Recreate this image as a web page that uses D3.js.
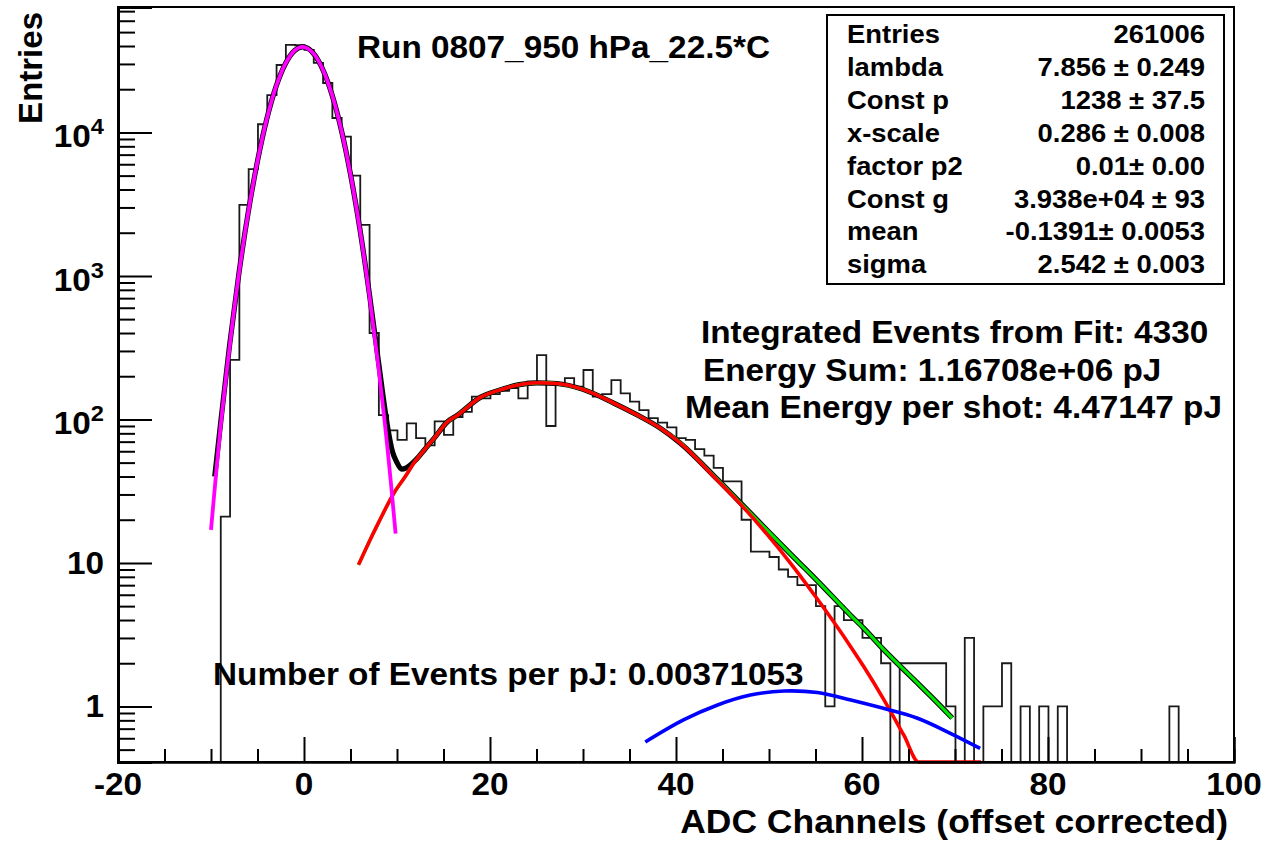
<!DOCTYPE html>
<html>
<head>
<meta charset="utf-8">
<script src="https://cdn.jsdelivr.net/npm/d3@7"></script>
<style>
  html, body { margin: 0; padding: 0; background: #fff; }
  svg { display: block; }
  text { font-family: "Liberation Sans", Arial, Helvetica, sans-serif; font-weight: bold; fill: #000; }
</style>
</head>
<body>
<svg id="chart" width="1267" height="841"></svg>
<script>
// ---------------- data ----------------
const histFirstEdge = -8.95;   // low edge of first non-empty bin (ADC channels)
const histBinWidth = 1;
const histCounts = [21,260,3125,5550,11400,18200,29500,40700,40500,37600,30500,22100,12600,9350,5000,2270,400,
  107,84,72,94,74,66,97,78,104,113,144,140,150,158,165,140,183,
  281,90,180,194,169,221,144,150,188,152,133,116,102,95,88,74,72,62,56,46,37,37,20,
  12,12,11,9,8,7,7,5,1,5,4,4,3,3,2,
  0,2,2,2,2,2,1,0,3,0,1,1,2,0,1,0,1,0,1,
  0,0,0,0,0,0,0,0,0,0,0,1];

// pedestal gaussian fit (magenta)
const gaussX = [-10,-9,-8,-7,-6,-5,-4,-3,-2,-1,-0.14,1,2,3,4,5,6,7,8,9,9.85];
const gaussY = [17,85,320,1030,2760,6300,12400,20900,30100,37200,39400,35600,27600,18400,10500,5100,2130,760,234,61,16];

// total fit (black)
const totalX = [-9.6,-9,-8,-7,-6,-5,-4,-3,-2,-1,-0.14,1,2,3,4,5,6,7,8,9,9.5,10,10.5,11,12,13,14,15.4,16.5,19,21,23,25.1,27.2,30,33.3,36,38.3,40.5,44.4,47.3,49.8,52.7,55.2,58.8,60.2,62.3,65.9,67.5,69.7];
const totalY = [40,90,330,1040,2770,6310,12410,20910,30110,37210,39410,35610,27610,18410,10510,5110,2140,775,255,88,60,50,45,46,52,62,74,96,107,143,160,174,180,178,162,130,106,87,68,38.5,24.8,16.9,10.9,7.5,4.3,3.5,2.5,1.47,1.16,0.83];

// signal component (red)
const signalX = [5.86,7,8,9.66,11,11.8,13,14,15.4,16.5,19,21,23,25.1,27.2,30,33.3,36,38.3,40.5,44.4,47.3,49.8,52.7,55.2,58.8,60.2,62.3,64.5,66.1,67,72.8];
const signalY = [9.7,14,19,30.6,41,49.5,62,74,96,107,143,160,174,180,178,162,130,106,87,68,38,24.2,15.8,9.25,5.6,2.6,1.89,1.13,0.63,0.41,0,0];

// signal + second component (green)
const sumX = [5.86,7,8,9.66,11,11.8,13,14,15.4,16.5,19,21,23,25.1,27.2,30,33.3,36,38.3,40.5,44.4,47.3,49.8,52.7,55.2,58.8,60.2,62.3,65.9,67.5,69.7];
const sumY = [9.7,14,19,30.6,41,49.5,62,74,96,107,143,160,174,180,178,162,130,106,87,68.5,38.5,24.8,16.9,10.9,7.5,4.3,3.5,2.5,1.47,1.16,0.83];

// second component (blue)
const p2X = [36.7,40.8,44.4,48.0,51.6,55.2,58.8,62.3,65.9,69.5,72.7];
const p2Y = [0.565,0.805,1.02,1.2,1.28,1.25,1.11,0.97,0.83,0.65,0.51];

const xMajorTicks = [-20,0,20,40,60,80,100];
const xTickLabels = ["-20","0","20","40","60","80","100"];
const yMajorTicks = [1,10,100,1000,10000];
const yTickBase = ["1","10","10","10","10"];
const yTickExp = ["","","2","3","4"];

const titleText = "Run 0807_950 hPa_22.5*C";
const statLabels = ["Entries","lambda","Const p","x-scale","factor p2","Const g","mean","sigma"];
const statValues = ["261006","7.856 \u00b1 0.249","1238 \u00b1 37.5","0.286 \u00b1 0.008","0.01\u00b1 0.00","3.938e+04 \u00b1 93","-0.1391\u00b1 0.0053","2.542 \u00b1 0.003"];
const noteLines = ["Integrated Events from Fit: 4330","Energy Sum: 1.16708e+06 pJ","Mean Energy per shot: 4.47147 pJ"];
const noteBottom = "Number of Events per pJ: 0.00371053";
const xTitle = "ADC Channels (offset corrected)";
const yTitle = "Entries";

// ---------------- layout ----------------
const frame = {left: 118, right: 1234, top: 7, bottom: 762};
const yMin = 0.41, yMax = 74800;
const HS = 1.075; // horizontal stretch of the glyphs

const svg = d3.select("#chart");
svg.append("rect").attr("width",1267).attr("height",841).attr("fill","#fff");

const x = d3.scaleLinear().domain([-20,100]).range([frame.left, frame.right]);
const y = d3.scaleLog().domain([yMin, yMax]).range([frame.bottom, frame.top]);
const yc = v => y(Math.max(v, yMin));

// ---------------- histogram ----------------
const pts = [];
pts.push([x(histFirstEdge), y(yMin)]);
histCounts.forEach((c, i) => {
  const lo = histFirstEdge + i*histBinWidth, hi = lo + histBinWidth;
  pts.push([x(lo), yc(c)]);
  pts.push([x(hi), yc(c)]);
});
pts.push([x(histFirstEdge + histCounts.length*histBinWidth), y(yMin)]);
svg.append("path").attr("d", d3.line()(pts))
  .attr("fill","none").attr("stroke","#1a1a1a").attr("stroke-width",1.8);

// ---------------- fit curves ----------------
function curve(xs, ys, color, width, interp) {
  const line = d3.line().x(d => x(d[0])).y(d => yc(d[1])).curve(interp || d3.curveCatmullRom);
  return svg.append("path").attr("d", line(xs.map((v,i)=>[v, ys[i]])))
    .attr("fill","none").attr("stroke",color).attr("stroke-width",width)
    .attr("stroke-linejoin","round").attr("stroke-linecap","butt");
}
curve(totalX, totalY, "#000", 5.2, d3.curveMonotoneX);
curve(sumX, sumY, "#00e600", 3.2);
curve(signalX, signalY, "#ff0000", 3.6, d3.curveMonotoneX);
curve(p2X, p2Y, "#0000ff", 3.6);
curve(gaussX, gaussY, "#ff00ff", 3.8);

// ---------------- frame & axes ----------------
svg.append("rect").attr("x",frame.left).attr("y",frame.top)
  .attr("width",frame.right-frame.left).attr("height",frame.bottom-frame.top)
  .attr("fill","none").attr("stroke","#000").attr("stroke-width",2);

const xMinor = d3.range(-20, 101, 5).filter(v => v % 20 !== 0);
const gx = svg.append("g").attr("transform",`translate(0,${frame.bottom})`);
gx.call(d3.axisBottom(x).tickValues(xMinor).tickSize(-13).tickFormat(""));
gx.append("g").call(d3.axisBottom(x).tickValues(xMajorTicks).tickSize(-25).tickFormat(""));
gx.selectAll(".domain").attr("stroke","#000").attr("stroke-width",2);
gx.selectAll(".tick line").attr("stroke","#000").attr("stroke-width",2);

const yMinor = [];
for (let e = -1; e <= 4; e++) for (let m = 2; m <= 9; m++) {
  const v = m*Math.pow(10,e);
  if (v >= yMin && v <= yMax) yMinor.push(v);
}
const gy = svg.append("g").attr("transform",`translate(${frame.left},0)`);
gy.call(d3.axisLeft(y).tickValues(yMinor).tickSize(-17).tickFormat(""));
gy.append("g").call(d3.axisLeft(y).tickValues(yMajorTicks).tickSize(-34).tickFormat(""));
gy.selectAll(".domain").attr("stroke","#000").attr("stroke-width",3);
gy.selectAll(".tick line").attr("stroke","#000").attr("stroke-width",2);

function txt(px, py, s, size, anchor) {
  return svg.append("text")
    .attr("transform",`translate(${px},${py}) scale(${HS},1)`)
    .attr("text-anchor", anchor || "start")
    .style("font-size", size+"px").text(s);
}

// x tick labels
xMajorTicks.forEach((v,i) => txt(x(v), 795, xTickLabels[i], 31, "middle"));

// y tick labels
yMajorTicks.forEach((v,i) => {
  const hasExp = yTickExp[i] !== "";
  const t = svg.append("text")
    .attr("transform",`translate(104,${y(v) + (hasExp ? 15 : 11)}) scale(${HS},1)`)
    .attr("text-anchor","end").style("font-size","31px");
  t.append("tspan").text(yTickBase[i]);
  if (hasExp) t.append("tspan").attr("dy",-13).style("font-size","22px").text(yTickExp[i]);
});

// axis titles
txt(1228, 833, xTitle, 33, "end");
svg.append("text").attr("transform","translate(42,12) rotate(-90)")
  .attr("text-anchor","end").style("font-size","33px").text(yTitle);

// title
txt(357, 58, titleText, 31, "start");

// stats box
svg.append("rect").attr("x",827).attr("y",15).attr("width",397).attr("height",269)
  .attr("fill","#fff").attr("stroke","#000").attr("stroke-width",2);
statLabels.forEach((s,i) => {
  const by = 43 + i*32.9;
  txt(847, by, s, 25.5, "start");
  txt(1205, by, statValues[i], 25.5, "end");
});

// annotations
txt(701, 343, noteLines[0], 31, "start");
txt(703, 381, noteLines[1], 31, "start");
txt(685, 418, noteLines[2], 31, "start");
txt(213, 685, noteBottom, 31, "start");
</script>
</body>
</html>
